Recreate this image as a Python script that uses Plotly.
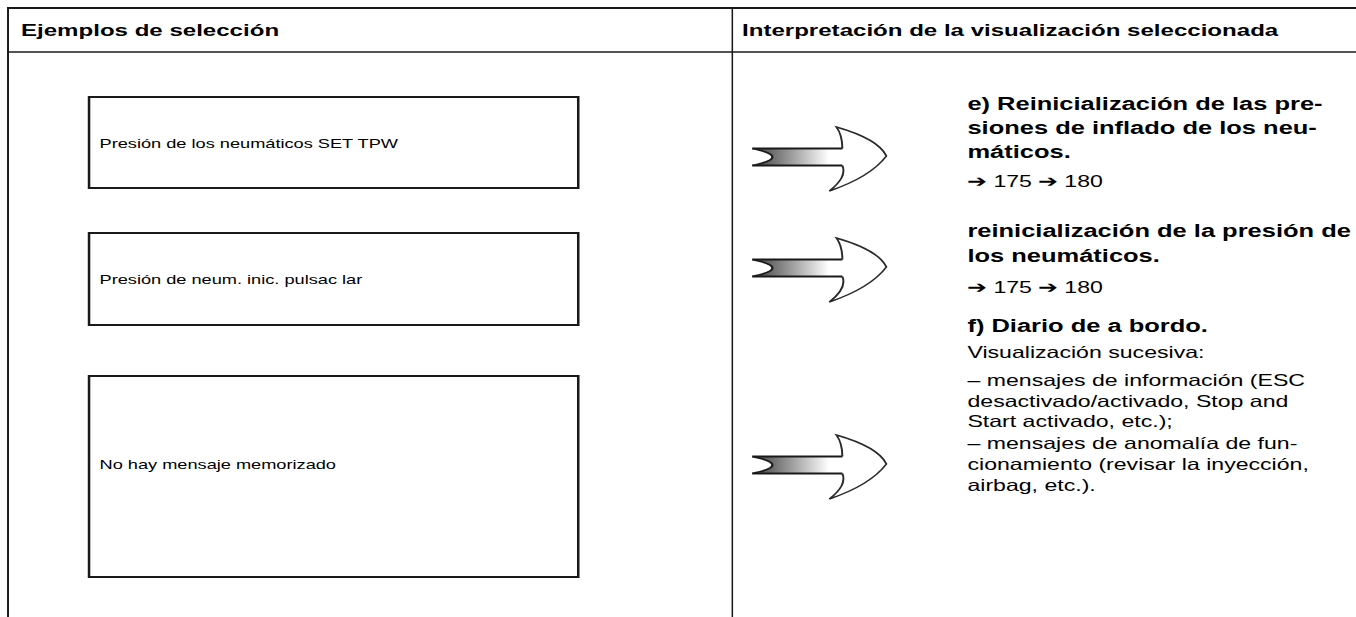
import numpy as np
import plotly.graph_objects as go

W, H = 1356, 617
S = 1.4  # horizontal stretch of the original page rendering

# ---- content ----
header_left = "Ejemplos de selección"
header_right = "Interpretación de la visualización seleccionada"

display_texts = [
    "Presión de los neumáticos SET TPW",
    "Presión de neum. inic. pulsac lar",
    "No hay mensaje memorizado",
]
display_boxes_y = [(97, 188), (233, 325), (376, 577)]
display_text_y = [143, 279, 464]
arrow_centers_y = [157, 268, 465]

# right column lines: (text, bold, y)
right_lines = [
    ("e) Reinicialización de las pre-", True, 104),
    ("siones de inflado de los neu-", True, 128),
    ("máticos.", True, 152),
    ("\u2794 175 \u2794 180", False, 181),
    ("reinicialización de la presión de", True, 231),
    ("los neumáticos.", True, 256),
    ("\u2794 175 \u2794 180", False, 287),
    ("f) Diario de a bordo.", True, 326),
    ("Visualización sucesiva:", False, 352),
    ("– mensajes de información (ESC", False, 380),
    ("desactivado/activado, Stop and", False, 401),
    ("Start activado, etc.);", False, 421),
    ("– mensajes de anomalía de fun-", False, 443),
    ("cionamiento (revisar la inyección,", False, 464),
    ("airbag, etc.).", False, 485),
]

FONT = "Liberation Sans, Arial, Helvetica, sans-serif"
LINE = "#1a1a1a"
SIZE_HEADER = 17.2
SIZE_BOX = 13
SIZE_BOLD = 18.2
SIZE_REG = 16.5

fig = go.Figure()
shapes = []
annotations = []

# table frame
shapes.append(dict(type="line", x0=7, x1=W + 5, y0=8, y1=8, line=dict(color=LINE, width=2)))
shapes.append(dict(type="line", x0=8, x1=8, y0=7, y1=H + 5, line=dict(color=LINE, width=1.4)))
shapes.append(dict(type="line", x0=7, x1=W + 5, y0=52, y1=52, line=dict(color=LINE, width=1.5)))
shapes.append(dict(type="line", x0=732, x1=732, y0=7, y1=H + 5, line=dict(color=LINE, width=1.1)))

annotations.append(dict(x=18, y=30, text="<b>%s</b>" % header_left, showarrow=False,
                        xanchor="left", yanchor="middle",
                        font=dict(size=SIZE_HEADER, color="#000", family=FONT)))
annotations.append(dict(x=739, y=30, text="<b>%s</b>" % header_right, showarrow=False,
                        xanchor="left", yanchor="middle",
                        font=dict(size=SIZE_HEADER, color="#000", family=FONT)))

# display boxes
for (y0, y1), ty, txt in zip(display_boxes_y, display_text_y, display_texts):
    shapes.append(dict(type="rect", x0=89, x1=578, y0=y0, y1=y1,
                       line=dict(color=LINE, width=1.8), fillcolor="rgba(0,0,0,0)"))
    annotations.append(dict(x=97, y=ty, text=txt, showarrow=False,
                            xanchor="left", yanchor="middle",
                            font=dict(size=SIZE_BOX, color="#000", family=FONT)))


# arrows: gradient shaft + outlined head
def arrow(left, cy):
    hh = 8.5  # half shaft height
    L = 90  # shaft length
    t = np.linspace(-1, 1, 21)
    notch_x = left + 20 * (1 - t ** 2)
    notch_y = cy + hh * t
    xs = [left, left + L, left + L] + list(notch_x[::-1])
    ys = [cy - hh, cy - hh, cy + hh] + list(notch_y[::-1])
    fig.add_trace(go.Scatter(x=xs, y=ys, mode="lines", fill="toself",
                             fillgradient=dict(type="horizontal",
                                               colorscale=[[0, "#3c3c3c"], [0.45, "#a0a0a0"],
                                                           [0.85, "#ffffff"], [1, "#ffffff"]]),
                             line=dict(color="rgba(0,0,0,0)", width=0),
                             hoverinfo="skip", showlegend=False))
    nx = " ".join("L %.1f,%.1f" % (a, b) for a, b in zip(notch_x[1:], notch_y[1:]))
    shapes.append(dict(type="path",
                       path="M %.1f,%.1f L %.1f,%.1f" % (left, cy - hh, left + L, cy - hh),
                       line=dict(color=LINE, width=1.8)))
    shapes.append(dict(type="path",
                       path="M %.1f,%.1f L %.1f,%.1f" % (left, cy + hh, left + L, cy + hh),
                       line=dict(color=LINE, width=1.8)))
    shapes.append(dict(type="path",
                       path="M %.1f,%.1f %s" % (notch_x[0], notch_y[0], nx),
                       line=dict(color=LINE, width=1.6)))
    p = ("M %.1f,%.1f Q %.1f,%.1f %.1f,%.1f Q %.1f,%.1f %.1f,%.1f "
         "Q %.1f,%.1f %.1f,%.1f Q %.1f,%.1f %.1f,%.1f" % (
             left + L, cy - hh,
             left + 90, cy - 22, left + 84, cy - 30,
             left + 126, cy - 18, left + 134, cy - 1,
             left + 118, cy + 20, left + 77, cy + 34,
             left + 95, cy + 20, left + L, cy + hh))
    shapes.append(dict(type="path", path=p, line=dict(color="#2a2a2a", width=1.4),
                       fillcolor="rgba(255,255,255,0)"))


for cy in arrow_centers_y:
    arrow(752, cy)

for txt, bold, y in right_lines:
    annotations.append(dict(x=966, y=y, text=("<b>%s</b>" % txt) if bold else txt, showarrow=False,
                            xanchor="left", yanchor="middle", borderpad=0,
                            font=dict(size=SIZE_BOLD if bold else SIZE_REG, color="#000", family=FONT)))

fig.update_layout(
    width=W / S, height=H, margin=dict(l=0, r=0, t=0, b=0),
    paper_bgcolor="white", plot_bgcolor="white",
    xaxis=dict(range=[0, W], visible=False, fixedrange=True),
    yaxis=dict(range=[H, 0], visible=False, fixedrange=True),
    shapes=shapes, annotations=annotations, showlegend=False,
)

post = (
    "document.body.style.margin='0';"
    "document.body.style.overflow='hidden';"
    "var gd=document.getElementById('{plot_id}');"
    "gd.style.transformOrigin='0 0';"
    "gd.style.transform='scaleX(%s)';" % S
)
fig.write_html("out.html", config={"displayModeBar": False, "responsive": False}, post_script=post)
